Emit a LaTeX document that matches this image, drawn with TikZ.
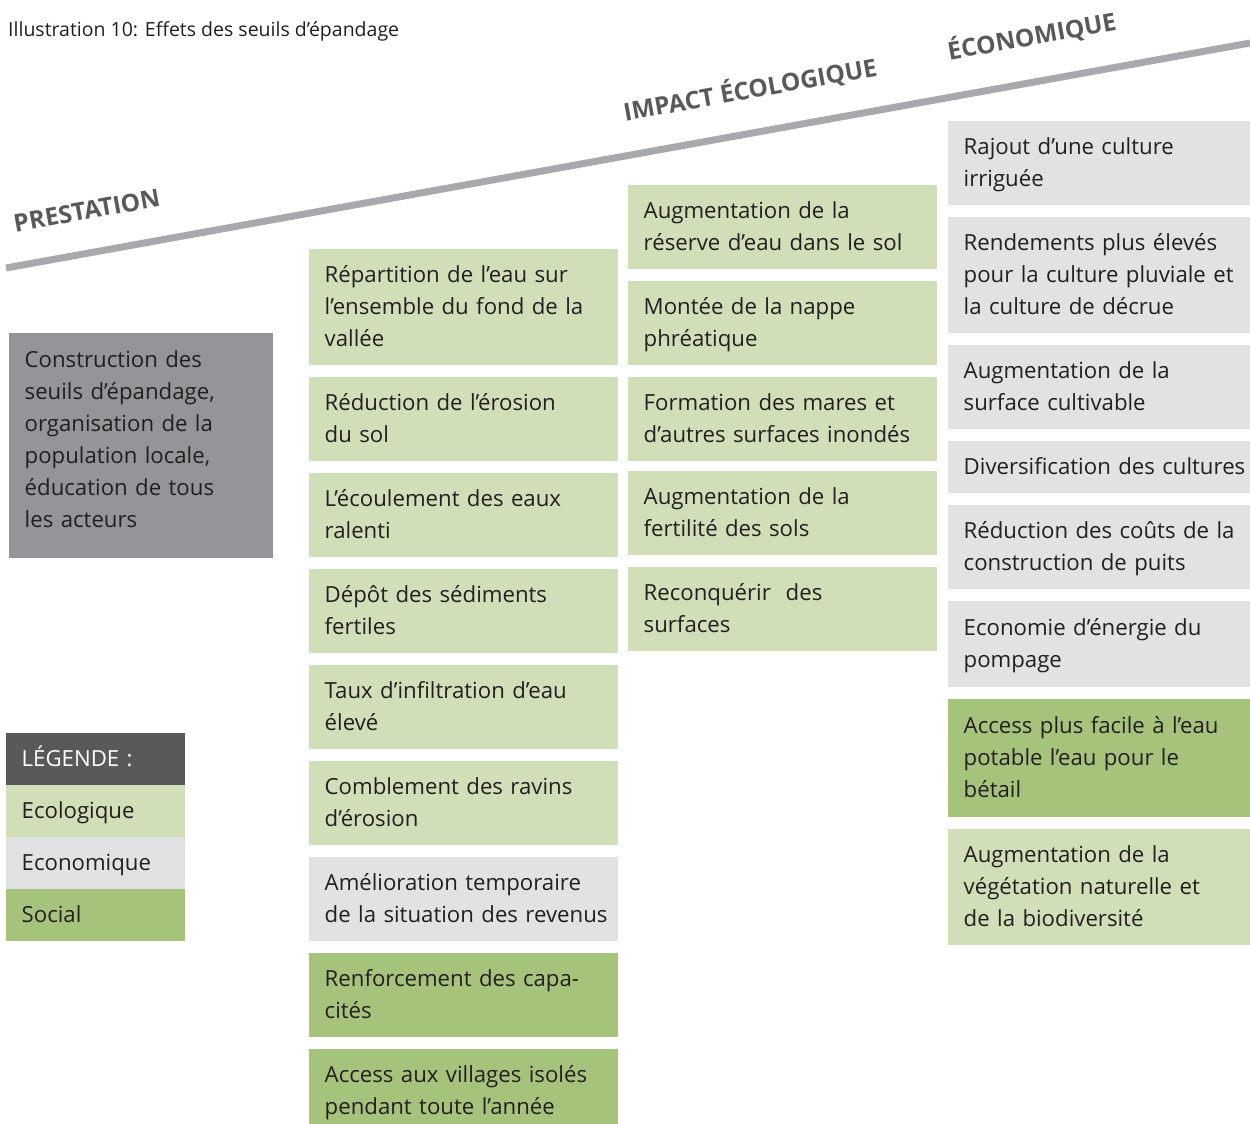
\documentclass[tikz,border=0pt]{standalone}
\usepackage{fontspec}
\setmainfont{Open Sans}[WordSpace=0.55]
\newfontfamily\headfont{Open Sans}
\usepackage{tikz}

\definecolor{ecolfill}{HTML}{D0DFB8}
\definecolor{econfill}{HTML}{E1E2E3}
\definecolor{socfill}{HTML}{A6C37C}
\definecolor{prestfill}{HTML}{939598}
\definecolor{legendhead}{HTML}{58595B}
\definecolor{axisgray}{HTML}{A7A9AC}
\definecolor{inkdark}{HTML}{231F20}

\newcommand{\topstrut}{\rule{0pt}{23.5pt}}
\newcommand{\botstrut}{\rule[-8.5pt]{0pt}{8.5pt}}
\newcommand{\boxfont}{\fontsize{22.2}{32}\selectfont}

\begin{document}
\begin{tikzpicture}[x=1pt,y=-1pt,
  cell/.style={anchor=north west, inner xsep=15.5pt, inner ysep=0pt,
    text width=#1-31pt, align=left, font=\boxfont, text=inkdark,
    execute at begin node=\topstrut, execute at end node=\botstrut},
  colB/.style={cell=309pt, minimum height=#1},
  colC/.style={cell=309pt, minimum height=#1},
  colD/.style={cell=302pt, minimum height=#1},
  ecol/.style={fill=ecolfill},
  econ/.style={fill=econfill},
  soc/.style={fill=socfill},
  heading/.style={anchor=base west, rotate=10.25, text=legendhead,
    font=\headfont\fontsize{24.5}{28}\selectfont\bfseries},
  legrow/.style={cell=179pt, minimum height=52pt}]
  \useasboundingbox (0,0) rectangle (1250,1124);

  \node[anchor=base west, inner sep=0pt, text=inkdark,
    font=\headfont\fontsize{19.5}{22}\selectfont] (title) at (8,37)
    {Illustration 10: Effets des seuils d’épandage};

  \draw[axisgray, line width=7pt] (6,268) -- (1250,43);
  \node[heading] (hprest) at (12,233) {PRESTATION};
  \node[heading] (hecol) at (622,122) {IMPACT ÉCOLOGIQUE};
  \node[heading] (hecon) at (946,61) {ÉCONOMIQUE};

  \node[cell=264pt, minimum height=225pt, fill=prestfill,
    execute at end node={\rule[-20.5pt]{0pt}{20.5pt}}] (prest) at (9,333)
    {Construction des\\seuils d’épandage,\\organisation de la\\population locale,\\éducation de tous\\les acteurs};

  \node[legrow, fill=legendhead, text=white] (leghead) at (6,733) {LÉGENDE :};
  \node[legrow, ecol] (legecol) at (6,785) {Ecologique};
  \node[legrow, econ] (legecon) at (6,837) {Economique};
  \node[legrow, soc] (legsoc) at (6,889) {Social};

  \node[colB=116pt, ecol] (repart) at (309,249) {Répartition de l’eau sur\\l’ensemble du fond de la\\vallée};
  \node[colB=84pt, ecol] (erosion) at (309,377) {Réduction de l’érosion\\du sol};
  \node[colB=84pt, ecol] (ecoul) at (309,473) {L’écoulement des eaux\\ralenti};
  \node[colB=84pt, ecol] (depot) at (309,569) {Dépôt des sédiments\\fertiles};
  \node[colB=84pt, ecol] (infil) at (309,665) {Taux d’infiltration d’eau\\élevé};
  \node[colB=84pt, ecol] (ravins) at (309,761) {Comblement des ravins\\d’érosion};
  \node[colB=84pt, econ] (revenus) at (309,857) {Amélioration temporaire\\\mbox{de la situation des revenus}};
  \node[colB=84pt, soc] (capac) at (309,953) {Renforcement des capa-\\cités};
  \node[colB=84pt, soc] (villages) at (309,1049) {\mbox{Access aux villages isolés}\\pendant toute l’année};

  \node[colC=84pt, ecol] (reserve) at (628,185) {Augmentation de la\\\mbox{réserve d’eau dans le sol}};
  \node[colC=84pt, ecol] (nappe) at (628,281) {Montée de la nappe\\phréatique};
  \node[colC=84pt, ecol] (mares) at (628,377) {Formation des mares et\\\mbox{d’autres surfaces inondés}};
  \node[colC=84pt, ecol] (fertil) at (628,471) {Augmentation de la\\fertilité des sols};
  \node[colC=84pt, ecol] (reconq) at (628,567) {Reconquérir\ \ des\\surfaces};

  \node[colD=84pt, econ] (rajout) at (948,121) {Rajout d’une culture\\irriguée};
  \node[colD=116pt, econ] (rendem) at (948,217) {\mbox{Rendements plus élevés}\\\mbox{pour la culture pluviale et}\\la culture de décrue};
  \node[colD=84pt, econ] (surface) at (948,345) {Augmentation de la\\surface cultivable};
  \node[colD=52pt, econ] (divers) at (948,441) {\mbox{Diversification des cultures}};
  \node[colD=84pt, econ] (puits) at (948,505) {\mbox{Réduction des coûts de la}\\construction de puits};
  \node[colD=86pt, econ] (energie) at (948,601) {Economie d’énergie du\\pompage};
  \node[colD=118pt, soc] (potable) at (948,699) {\mbox{Access plus facile à l’eau}\\potable l’eau pour le\\bétail};
  \node[colD=116pt, ecol] (vegetat) at (948,829) {Augmentation de la\\végétation naturelle et\\de la biodiversité};
\end{tikzpicture}
\end{document}
